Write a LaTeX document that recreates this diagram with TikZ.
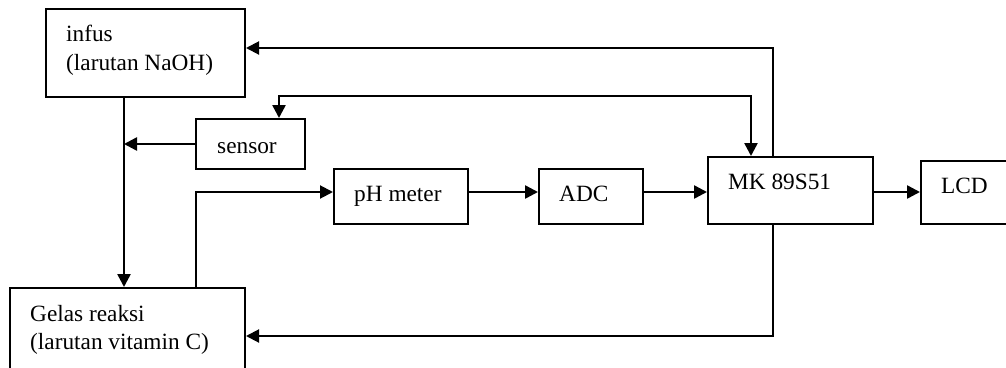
\documentclass[tikz,border=0pt]{standalone}
\usepackage{fontspec}
\setmainfont{Liberation Serif}
\usetikzlibrary{arrows.meta}
\tikzset{
  box/.style={draw=black, line width=2pt, rectangle, inner sep=0pt, anchor=north west},
  txt/.style={inner sep=0pt, anchor=base west, font=\fontsize{23.3pt}{28pt}\selectfont},
  conn/.style={draw=black, line width=2.5pt},
  thinconn/.style={draw=black, line width=2pt},
  tip/.style={-{Triangle[length=13pt,width=13pt]}},
  bitip/.style={{Triangle[length=13pt,width=13pt]}-{Triangle[length=13pt,width=13pt]}}
}
\begin{document}
\begin{tikzpicture}[x=1pt,y=-1pt]
\useasboundingbox (0,0) rectangle (1006,367);
\clip (0,0) rectangle (1006,367);
\fill[white] (0,0) rectangle (1006,367);
% boxes
\node[box, minimum width=199pt, minimum height=88pt] (infus) at (45,8) {};
\node[box, minimum width=109pt, minimum height=50pt] (sensor) at (195,118) {};
\node[box, minimum width=235pt, minimum height=100pt] (gelas) at (9,287) {};
\node[box, minimum width=134pt, minimum height=55pt] (ph) at (333,168) {};
\node[box, minimum width=104pt, minimum height=55pt] (adc) at (538,168) {};
\node[box, minimum width=165pt, minimum height=67pt] (mk) at (707,156) {};
\node[box, minimum width=100pt, minimum height=63pt] (lcd) at (920,160) {};
% texts
\node[txt] (tinfa) at (66,41) {infus};
\node[txt] (tinfb) at (66,70) {(larutan NaOH)};
\node[txt] (tsens) at (217,153) {sensor};
\node[txt] (tgela) at (30,321) {Gelas reaksi};
\node[txt] (tgelb) at (30,349) {(larutan vitamin C)};
\node[txt] (tph) at (354,201) {pH meter};
\node[txt] (tadc) at (559,201) {ADC};
\node[txt] (tmk) at (728,189) {MK 89S51};
\node[txt] (tlcd) at (941,193) {LCD};
% helper coordinates
\coordinate (yTop) at (0,48);
\coordinate (ySens) at (0,96);
\coordinate (ySensOut) at (0,144);
\coordinate (yMain) at (0,192);
\coordinate (yBot) at (0,336);
\coordinate (xSens) at (279,0);
\coordinate (xMkIn) at (751,0);
\coordinate (xMkOut) at (773,0);
\coordinate (xInf) at (124,0);
\coordinate (xGel) at (196,0);
% connectors
\draw[thinconn, tip] (mk.north -| xMkOut) |- (infus.east |- yTop);
\draw[conn, bitip] (sensor.north -| xSens) |- (ySens -| xMkIn) -- (mk.north -| xMkIn);
\draw[conn, tip] (sensor.west |- ySensOut) -- (xInf |- ySensOut);
\draw[conn, tip] (infus.south -| xInf) -- (gelas.north -| xInf);
\draw[thinconn, tip] (gelas.north -| xGel) |- (ph.west |- yMain);
\draw[conn, tip] (ph.east |- yMain) -- (adc.west |- yMain);
\draw[conn, tip] (adc.east |- yMain) -- (mk.west |- yMain);
\draw[conn, tip] (mk.east |- yMain) -- (lcd.west |- yMain);
\draw[thinconn, tip] (mk.south -| xMkOut) |- (gelas.east |- yBot);
\end{tikzpicture}
\end{document}
